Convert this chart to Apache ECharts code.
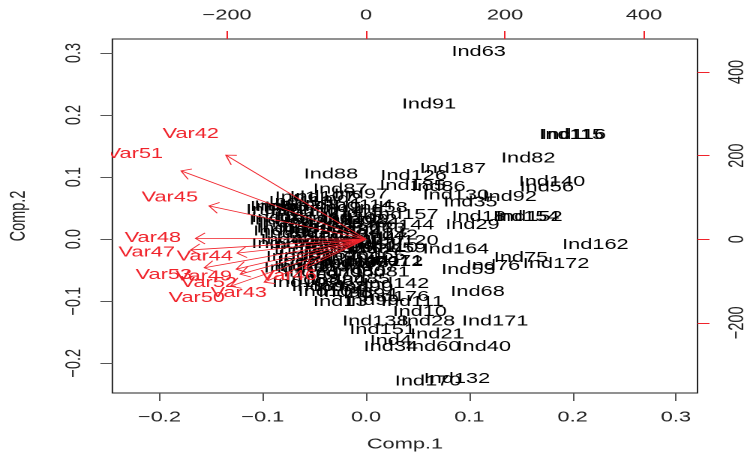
<!DOCTYPE html>
<html><head><meta charset="utf-8">
<script src="https://cdn.jsdelivr.net/npm/echarts@6/dist/echarts.min.js"></script>
<style>
html,body{margin:0;padding:0;overflow:hidden;background:#fff}
#wrap{width:748px;height:460px;overflow:hidden;position:relative}
#c{width:498.667px;height:460px;transform:scaleX(1.5);transform-origin:0 0}
</style>
</head><body><div id="wrap"><div id="c"></div></div>
<script>
// horizontal stretch of the reference picture
const S = 1.5;

const xTicks = [-0.2, -0.1, 0, 0.1, 0.2, 0.3];
const yTicks = [-0.2, -0.1, 0, 0.1, 0.2, 0.3];
const topTicks = [-200, 0, 200, 400];
const rightTicks = [-200, 0, 200, 400];

const indNames = [
 "Ind63","Ind91","Ind115","Ind116","Ind82","Ind187","Ind126","Ind140","Ind56","Ind185",
 "Ind86","Ind92","Ind130","Ind35","Ind152","Ind154","Ind18","Ind29","Ind162","Ind75",
 "Ind172","Ind76","Ind53","Ind68","Ind171","Ind10","Ind28","Ind138","Ind151","Ind21",
 "Ind4","Ind34","Ind60","Ind40","Ind170","Ind132","Ind111","Ind13","Ind99","Ind142",
 "Ind38","Ind176","Ind88","Ind97","Ind107","Ind87","Ind58","Ind157","Ind144","Ind120",
 "Ind164",
 "Ind1","Ind2","Ind3","Ind5","Ind6","Ind7","Ind8","Ind9","Ind11","Ind12",
 "Ind14","Ind15","Ind16","Ind17","Ind19","Ind20","Ind22","Ind23","Ind24","Ind25",
 "Ind26","Ind27","Ind30","Ind31","Ind32","Ind33","Ind36","Ind37","Ind39","Ind41",
 "Ind42","Ind43","Ind44","Ind45","Ind46","Ind47","Ind48","Ind49","Ind50","Ind51",
 "Ind52","Ind54","Ind55","Ind57","Ind59","Ind61","Ind62","Ind64","Ind65","Ind66",
 "Ind67","Ind69","Ind70","Ind71","Ind72","Ind73","Ind74","Ind77","Ind78","Ind79",
 "Ind80","Ind81","Ind83","Ind84","Ind85","Ind89","Ind90","Ind93","Ind94",
 "Ind95","Ind96","Ind98","Ind100","Ind101","Ind102","Ind103","Ind104","Ind105","Ind106",
 "Ind108","Ind109","Ind110","Ind112","Ind113","Ind114"
];
const indX = [
 0.109,0.061,0.199,0.201,0.157,0.084,0.046,0.180,0.175,0.045,
 0.070,0.139,0.087,0.101,0.158,0.155,0.109,0.103,0.222,0.150,
 0.184,0.123,0.099,0.108,0.125,0.052,0.060,0.009,0.016,0.069,
 0.024,0.024,0.065,0.114,0.060,0.088,0.045,-0.025,0.006,0.029,
 -0.025,0.029,-0.034,-0.005,-0.042,-0.025,0.014,0.038,0.034,0.038,
 0.087,
 -0.068,-0.025,-0.092,-0.088,-0.078,-0.063,-0.046,-0.025,-0.073,-0.052,
 -0.029,-0.010,-0.085,-0.063,-0.039,-0.017,0.004,-0.078,-0.054,-0.029,
 -0.005,-0.080,-0.059,-0.036,-0.013,0.012,-0.073,-0.049,-0.025,0.000,
 0.024,-0.076,-0.052,-0.029,-0.010,0.014,-0.068,-0.044,-0.020,0.006,
 -0.063,-0.039,-0.015,0.009,0.032,-0.059,-0.034,-0.013,0.012,-0.060,
 -0.036,-0.015,0.006,0.029,-0.063,-0.042,-0.020,0.004,-0.054,-0.029,
 -0.007,0.016,-0.052,-0.027,-0.003,-0.046,0.000,-0.020,0.004,
 -0.090,-0.087,-0.083,-0.079,-0.065,-0.067,-0.059,-0.034,-0.010,-0.025,
 -0.044,-0.010,0.019,0.024,-0.063,-0.005
];
const indY = [
 0.302,0.217,0.168,0.168,0.130,0.113,0.102,0.092,0.083,0.086,
 0.084,0.068,0.070,0.059,0.036,0.036,0.036,0.023,-0.009,-0.030,
 -0.040,-0.043,-0.050,-0.085,-0.133,-0.117,-0.133,-0.133,-0.146,-0.154,
 -0.164,-0.174,-0.174,-0.174,-0.229,-0.225,-0.101,-0.101,-0.100,-0.072,
 -0.077,-0.093,0.104,0.072,0.068,0.080,0.050,0.039,0.022,-0.003,
 -0.017,
 0.067,0.065,0.052,0.053,0.051,0.052,0.054,0.050,0.044,0.043,
 0.045,0.042,0.034,0.035,0.033,0.034,0.031,0.025,0.026,0.024,
 0.025,0.017,0.016,0.018,0.015,0.017,0.008,0.009,0.007,0.008,
 0.006,-0.001,0.000,-0.002,-0.001,0.001,-0.009,-0.010,-0.008,-0.010,
 -0.017,-0.018,-0.016,-0.017,-0.015,-0.027,-0.026,-0.028,-0.027,-0.037,
 -0.036,-0.038,-0.037,-0.035,-0.045,-0.046,-0.044,-0.045,-0.054,-0.055,
 -0.053,-0.054,-0.066,-0.067,-0.065,-0.077,-0.078,-0.087,-0.088,
 0.047,0.030,0.012,-0.008,-0.029,-0.047,-0.071,-0.085,-0.039,-0.014,
 0.015,0.031,-0.014,-0.037,0.060,0.054
];

const varNames = ["Var42","Var51","Var45","Var48","Var47","Var44","Var53","Var49","Var52","Var50","Var43","Var46"];
const varX = [-252.2,-332.7,-282.4,-306.8,-315.5,-232.1,-291.0,-233.5,-226.3,-243.6,-183.2,-111.3];
const varY = [251.5,204.3,99.6,2.4,-32.1,-41.7,-85.5,-89.6,-104.7,-140.6,-128.6,-87.9];

const FONT_FAMILY = '"Liberation Sans", Arial, Helvetica, sans-serif';
const FS = 14.5;
const RED = '#f0232b';
const fmt1 = v => (v < 0 ? '\u2212' : '') + Math.abs(v).toFixed(1);
const fmt0 = v => (v < 0 ? '\u2212' : '') + Math.abs(Math.round(v));

const chart = echarts.init(document.getElementById('c'), null, {renderer: 'canvas', devicePixelRatio: 2});

const labelStyle = {color: '#222', fontSize: FS, fontFamily: FONT_FAMILY};

const option = {
  animation: false,
  grid: {left: 74.93, right: 34, top: 39, bottom: 67, show: true, borderColor: '#222', borderWidth: 1,
         backgroundColor: 'transparent', containLabel: false, outerBoundsMode: 'none'},
  xAxis: [
    {type: 'value', position: 'bottom', min: -0.2456, max: 0.3209,
     splitLine: {show: false}, axisLine: {show: false, onZero: false},
     axisTick: {show: true, length: 8, inside: false, customValues: xTicks, lineStyle: {color: '#555'}},
     axisLabel: Object.assign({customValues: xTicks, formatter: fmt1, margin: 17}, labelStyle),
     name: 'Comp.1', nameLocation: 'middle', nameGap: 44, nameTextStyle: {color: '#222', fontSize: FS, fontFamily: FONT_FAMILY}},
    {type: 'value', position: 'top', min: -365, max: 477,
     splitLine: {show: false}, axisLine: {show: false, onZero: false},
     axisTick: {show: true, length: 8, inside: false, customValues: topTicks, lineStyle: {color: RED}},
     axisLabel: Object.assign({customValues: topTicks, formatter: fmt0, margin: 16}, labelStyle)}
  ],
  yAxis: [
    {type: 'value', position: 'left', min: -0.2479, max: 0.3226,
     splitLine: {show: false}, axisLine: {show: false, onZero: false},
     axisTick: {show: true, length: 8, inside: false, customValues: yTicks, lineStyle: {color: '#555'}},
     axisLabel: Object.assign({customValues: yTicks, formatter: fmt1, margin: 18, rotate: 90}, labelStyle),
     name: 'Comp.2', nameLocation: 'middle', nameGap: 55, nameRotate: 90, nameTextStyle: {color: '#222', fontSize: FS, fontFamily: FONT_FAMILY}},
    {type: 'value', position: 'right', min: -368, max: 479,
     splitLine: {show: false}, axisLine: {show: false, onZero: false},
     axisTick: {show: true, length: 8, inside: false, customValues: rightTicks, lineStyle: {color: RED}},
     axisLabel: Object.assign({customValues: rightTicks, formatter: fmt0, margin: 19, rotate: 90}, labelStyle)}
  ],
  series: [
    {
      type: 'custom', name: 'individuals', xAxisIndex: 0, yAxisIndex: 0, clip: false,
      data: indX.map((x, i) => [x, indY[i]]),
      renderItem: (params, api) => {
        const p = api.coord([api.value(0), api.value(1)]);
        return {type: 'text', x: p[0], y: p[1],
          style: {text: indNames[params.dataIndex], fill: '#000', fontSize: FS, fontFamily: FONT_FAMILY, align: 'center', verticalAlign: 'middle'}};
      }
    },
    {
      type: 'custom', name: 'arrows', xAxisIndex: 1, yAxisIndex: 1, clip: true,
      data: varX.map((x, i) => [x, varY[i]]),
      renderItem: (params, api) => {
        const p0 = api.coord([0, 0]);
        const p1 = api.coord([api.value(0) * 0.8, api.value(1) * 0.8]);
        const dx = (p1[0] - p0[0]) * S, dy = p1[1] - p0[1];
        const ang = Math.atan2(dy, dx);
        const L = 11, a = Math.PI / 6;
        const h1 = [p1[0] - L * Math.cos(ang - a) / S, p1[1] - L * Math.sin(ang - a)];
        const h2 = [p1[0] - L * Math.cos(ang + a) / S, p1[1] - L * Math.sin(ang + a)];
        return {type: 'group', children: [
          {type: 'line', shape: {x1: p0[0], y1: p0[1], x2: p1[0], y2: p1[1]}, style: {stroke: RED, lineWidth: 0.8}},
          {type: 'polyline', shape: {points: [h1, p1, h2]}, style: {stroke: RED, lineWidth: 0.8, fill: null}}
        ]};
      }
    },
    {
      type: 'custom', name: 'variables', xAxisIndex: 1, yAxisIndex: 1, clip: true,
      data: varX.map((x, i) => [x, varY[i]]),
      renderItem: (params, api) => {
        const p = api.coord([api.value(0), api.value(1)]);
        return {type: 'text', x: p[0], y: p[1],
          style: {text: varNames[params.dataIndex], fill: RED, fontSize: FS, fontFamily: FONT_FAMILY, align: 'center', verticalAlign: 'middle'}};
      }
    }
  ]
};
chart.setOption(option);
</script>
</body></html>
